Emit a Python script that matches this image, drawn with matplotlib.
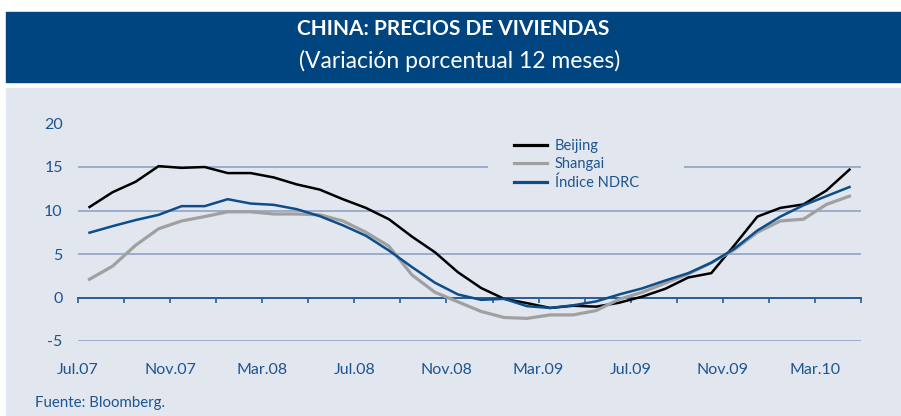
import matplotlib
matplotlib.use("Agg")
import matplotlib.pyplot as plt
from matplotlib.patches import Rectangle

W, H = 901, 416

BANNER = "#00457f"
PANEL = "#e2e6ef"
TEXT_BLUE = "#1c5590"
GRID = "#8ea3c6"
ZERO_LINE = "#2a5d96"

# meses jul.07 .. abr.10
month_labels = ["Jul.07", "Nov.07", "Mar.08", "Jul.08", "Nov.08",
                "Mar.09", "Jul.09", "Nov.09", "Mar.10"]

beijing = [10.4, 12.1, 13.3, 15.1, 14.9, 15.0, 14.3, 14.3, 13.8, 13.0,
           12.4, 11.3, 10.3, 9.0, 7.0, 5.2, 2.9, 1.1, -0.15, -0.65,
           -1.2, -0.95, -1.05, -0.6, 0.1, 1.0, 2.3, 2.8, 6.0, 9.3,
           10.3, 10.7, 12.3, 14.7]

shangai = [2.1, 3.6, 6.0, 7.9, 8.8, 9.3, 9.85, 9.85, 9.6, 9.6,
           9.5, 8.8, 7.5, 5.9, 2.6, 0.6, -0.5, -1.6, -2.3, -2.4,
           -2.0, -2.0, -1.5, -0.2, 0.6, 1.65, 2.7, 4.0, 5.5, 7.5,
           8.8, 9.0, 10.7, 11.65]

ndrc = [7.45, 8.2, 8.9, 9.5, 10.5, 10.5, 11.3, 10.8, 10.65, 10.15,
        9.35, 8.3, 7.1, 5.4, 3.5, 1.7, 0.35, -0.27, -0.15, -1.0,
        -1.2, -0.9, -0.45, 0.35, 1.05, 1.95, 2.8, 4.0, 5.6, 7.7,
        9.3, 10.6, 11.65, 12.7]

series = [
    ("Beijing", beijing, "#000000", 1.8),
    ("Shangai", shangai, "#a0a0a0", 2.3),
    ("Índice NDRC", ndrc, "#0d4d8a", 1.8),
]

plt.rcParams["font.family"] = ["Lato", "DejaVu Sans"]
plt.rcParams["axes.unicode_minus"] = False


def fx(px):
    return px / W


def fy(py):
    return 1 - py / H


fig = plt.figure(figsize=(W / 100, H / 100), dpi=100)
fig.patch.set_facecolor("white")

# banda del titulo y panel gris
fig.add_artist(Rectangle((fx(6), fy(82)), fx(895), 70 / H,
                         transform=fig.transFigure, color=BANNER, zorder=0))
fig.add_artist(Rectangle((fx(6), fy(416)), fx(895), 328 / H,
                         transform=fig.transFigure, color=PANEL, zorder=0))

fig.text(fx(453), fy(29), "CHINA: PRECIOS DE VIVIENDAS", color="white",
         fontsize=15, fontweight="bold", ha="center", va="center")
fig.text(fx(460), fy(61), "(Variación porcentual 12 meses)", color="white",
         fontsize=16.5, ha="center", va="center")

left, right = 78, 861
top, bottom = 123.5, 341
ax = fig.add_axes([fx(left), fy(bottom), fx(right - left), (bottom - top) / H])
ax.set_facecolor("none")

x = list(range(len(beijing)))
for name, values, color, lw in series:
    ax.plot(x, values, color=color, linewidth=lw, label=name, zorder=3)

ax.set_xlim(-0.5, len(beijing) - 0.5)
ax.set_ylim(-5, 20)
ax.set_yticks([-5, 0, 5, 10, 15, 20])
ax.yaxis.grid(True, color=GRID, linewidth=1.2, zorder=0)
ax.set_axisbelow(True)

for side in ["left", "right", "top"]:
    ax.spines[side].set_visible(False)
ax.spines["bottom"].set_position(("data", 0))
ax.spines["bottom"].set_color(ZERO_LINE)
ax.spines["bottom"].set_linewidth(1.4)
ax.spines["bottom"].set_zorder(2)

ax.set_xticks([-0.5 + 4 * k for k in range(len(month_labels))])
ax.set_xticklabels(month_labels)
ax.set_xticks([-0.5 + 2 * k for k in range(len(beijing) // 2 + 1)], minor=True)
ax.tick_params(axis="x", which="both", direction="out", length=3.5,
               width=1.2, color=ZERO_LINE)
ax.tick_params(axis="x", which="major", pad=44, labelsize=11.5,
               labelcolor=TEXT_BLUE)
ax.tick_params(axis="y", length=0, pad=11, labelsize=11.5, labelcolor=TEXT_BLUE)

# fondo de la leyenda tapa la linea de 15
ax.add_patch(Rectangle((17.3, 13.8), 8.5, 4.4, facecolor=PANEL,
                       edgecolor="none", zorder=1))
leg = ax.legend(loc="upper left", bbox_to_anchor=(0.549, 0.955),
                frameon=False, fontsize=10.5, handlelength=2.3,
                handletextpad=0.5, labelspacing=0.3, borderaxespad=0)
for t in leg.get_texts():
    t.set_color(TEXT_BLUE)
for h in leg.get_lines():
    h.set_linewidth(2.3)

fig.text(fx(35), fy(403), "Fuente: Bloomberg.", color=TEXT_BLUE,
         fontsize=10.8, ha="left", va="center")

fig.savefig("out.png", dpi=100)
